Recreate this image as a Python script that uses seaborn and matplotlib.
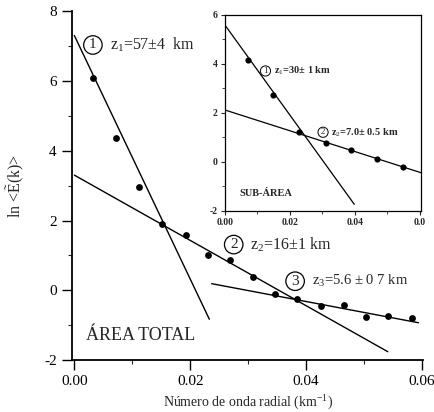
import numpy as np
import pandas as pd
import matplotlib
matplotlib.use("Agg")
import matplotlib.pyplot as plt
import seaborn as sns
from matplotlib.ticker import MultipleLocator

# ---- data: main (ÁREA TOTAL) ----
k_total = [0.0032, 0.0072, 0.0112, 0.0152, 0.0192, 0.0230, 0.0269, 0.0308,
           0.0347, 0.0385, 0.0426, 0.0465, 0.0503, 0.0542, 0.0582]
lnE_total = [6.09, 4.35, 2.97, 1.89, 1.58, 1.00, 0.86, 0.38,
             -0.10, -0.24, -0.45, -0.41, -0.76, -0.73, -0.78]
# fitted segments (x start, x end, y start, y end)
seg1_x = [0.0, 0.0233]; seg1_y = [7.30, -0.83]
seg2_x = [0.0, 0.0541]; seg2_y = [3.30, -1.76]
seg3_x = [0.0237, 0.0594]; seg3_y = [0.19, -0.93]

# ---- data: inset (SUB-ÁREA) ----
k_sub = [0.0070, 0.0149, 0.0229, 0.0311, 0.0388, 0.0468, 0.0549]
lnE_sub = [4.16, 2.73, 1.21, 0.79, 0.49, 0.11, -0.19]
sub1_x = [0.0, 0.0398]; sub1_y = [5.59, -1.73]
sub2_x = [0.0, 0.0603]; sub2_y = [2.12, -0.44]

main_xticks = [0.00, 0.02, 0.04, 0.06]
main_xticklabels = ["0.00", "0.02", "0.04", "0.06"]
main_yticks = [-2, 0, 2, 4, 6, 8]
sub_xticks = [0.00, 0.02, 0.04, 0.06]
sub_xticklabels = ["0.00", "0.02", "0.04", "0.0"]
sub_yticks = [-2, 0, 2, 4, 6]

sns.set_theme(style="ticks")
plt.rcParams['font.family'] = ['Liberation Serif', 'DejaVu Serif']
plt.rcParams['mathtext.fontset'] = 'custom'
plt.rcParams['mathtext.rm'] = 'Liberation Serif'
plt.rcParams['mathtext.it'] = 'Liberation Serif'
plt.rcParams['mathtext.bf'] = 'Liberation Serif:bold'
plt.rcParams['axes.unicode_minus'] = False

fig = plt.figure(figsize=(4.34, 4.12), dpi=100)
ax = fig.add_axes([0.166, 0.126, 0.809, 0.847])

df_t = pd.DataFrame({"k": k_total, "lnE": lnE_total})
sns.scatterplot(data=df_t, x="k", y="lnE", ax=ax, color="black", s=24,
                edgecolor="black", linewidth=0, zorder=3)
for xs, ys in [(seg1_x, seg1_y), (seg2_x, seg2_y), (seg3_x, seg3_y)]:
    sns.lineplot(x=xs, y=ys, ax=ax, color="black", lw=1.0, sort=False)

ax.set_xlim(-0.0004, 0.0602)
ax.set_ylim(-2, 8)
ax.set_xticks(main_xticks)
ax.set_xticklabels(main_xticklabels)
ax.set_yticks(main_yticks)
ax.xaxis.set_minor_locator(MultipleLocator(0.01))
ax.yaxis.set_minor_locator(MultipleLocator(1))
ax.tick_params(axis='both', which='major', labelsize=11, length=7, width=1, colors='black', pad=4)
ax.tick_params(axis='both', which='minor', length=3, width=0.8)
for sp in ['top', 'right']:
    ax.spines[sp].set_visible(False)
for sp in ['left', 'bottom']:
    ax.spines[sp].set_linewidth(1.3)
    ax.spines[sp].set_color('black')
ax.set_xlabel("Número de onda radial (km$^{-1}$)", fontsize=10, labelpad=4)
ax.set_ylabel(r"ln <$\tilde{\mathrm{E}}$(k)>", fontsize=11.5, labelpad=12)

circ = dict(boxstyle='circle,pad=0.18', fc='white', ec='black', lw=0.9)
ax.text(0.0032, 7.03, "1", fontsize=11, ha='center', va='center', bbox=circ)
ax.text(0.0061, 7.03, "z$_1$=57±4  km", fontsize=11.5, ha='left', va='center')
ax.text(0.0275, 1.31, "2", fontsize=11, ha='center', va='center', bbox=circ)
ax.text(0.0304, 1.31, "z$_2$=16±1 km", fontsize=11.5, ha='left', va='center')
ax.text(0.0381, 0.26, "3", fontsize=11, ha='center', va='center', bbox=circ)
ax.text(0.0410, 0.26, "z$_3$=5.6 ± 0 7 km", fontsize=10.5, ha='left', va='center')
ax.text(0.0020, -1.29, "ÁREA TOTAL", fontsize=13, ha='left', va='center')

# ---- inset ----
axi = fig.add_axes([0.518, 0.488, 0.452, 0.476])
df_s = pd.DataFrame({"k": k_sub, "lnE": lnE_sub})
sns.scatterplot(data=df_s, x="k", y="lnE", ax=axi, color="black", s=20,
                edgecolor="black", linewidth=0, zorder=3)
for xs, ys in [(sub1_x, sub1_y), (sub2_x, sub2_y)]:
    sns.lineplot(x=xs, y=ys, ax=axi, color="black", lw=0.9, sort=False)
axi.set_xlim(0, 0.0603)
axi.set_ylim(-2, 6)
axi.set_xticks(sub_xticks)
axi.set_xticklabels(sub_xticklabels)
axi.set_yticks(sub_yticks)
axi.xaxis.set_minor_locator(MultipleLocator(0.01))
axi.yaxis.set_minor_locator(MultipleLocator(1))
axi.tick_params(axis='both', which='major', labelsize=7, length=3, width=0.8, pad=2)
axi.tick_params(axis='both', which='minor', length=2, width=0.6)
for lab in axi.get_xticklabels() + axi.get_yticklabels():
    lab.set_fontweight('bold')
for sp in axi.spines.values():
    sp.set_linewidth(0.9)
    sp.set_color('black')
axi.set_xlabel("")
axi.set_ylabel("")
circ_s = dict(boxstyle='circle,pad=0.12', fc='white', ec='black', lw=0.7)
axi.text(0.0125, 3.71, "1", fontsize=6.5, ha='center', va='center', bbox=circ_s)
axi.text(0.0150, 3.71, "z$_1$=30± 1 km", fontsize=7.5, ha='left', va='center', fontweight='bold')
axi.text(0.0302, 1.21, "2", fontsize=6.5, ha='center', va='center', bbox=circ_s)
axi.text(0.0327, 1.21, "z$_2$=7.0± 0.5 km", fontsize=7.5, ha='left', va='center', fontweight='bold')
axi.text(0.0046, -1.3, "SUB-ÁREA", fontsize=7.5, ha='left', va='center', fontweight='bold')

fig.savefig("out.png", dpi=100)
